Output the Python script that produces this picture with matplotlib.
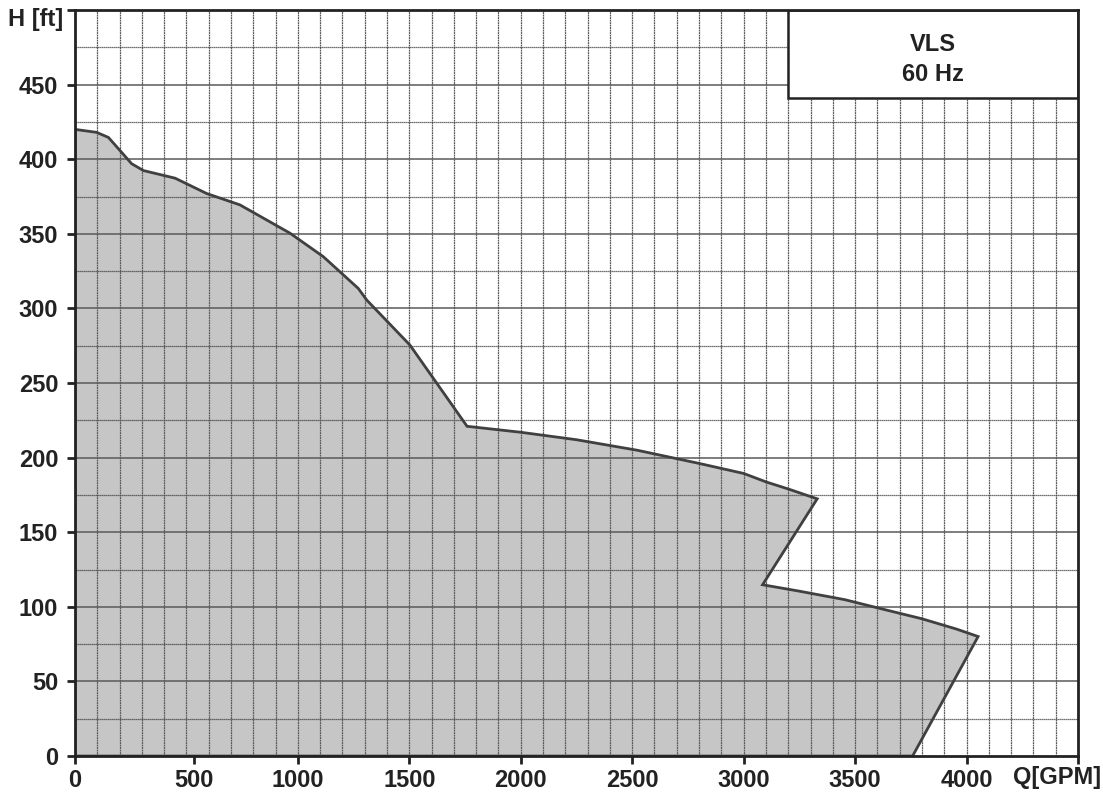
import matplotlib
matplotlib.use("Agg")
import matplotlib.pyplot as plt
from matplotlib.patches import Polygon, Rectangle

plt.rcParams["font.family"] = ["Liberation Sans", "DejaVu Sans"]

# Betriebsbereich VLS 60 Hz (Umriss, im Uhrzeigersinn ab Q=0)
Q = [0, 97, 150, 195, 254, 307, 449, 591, 740, 965, 1114, 1271, 1309, 1503, 1759,
     2000, 2250, 2521, 2804, 3000, 3103, 3200, 3330,
     3085, 3250, 3454, 3604, 3800, 3955, 4052,
     3758, 0]
H = [420, 418, 414.6, 407, 397, 392.4, 387.3, 377, 369.4, 350.4, 334.7, 313.4, 305.6, 275.4, 221,
     217, 212, 205, 196, 189.4, 183.6, 179, 172.4,
     114.8, 110.5, 104.8, 99.2, 92, 85.1, 80.1,
     0, 0]

x_ticks = [0, 534, 1000, 1500, 2000, 2500, 3000, 3500, 4000, 4500]
x_labels = ["0", "500", "1000", "1500", "2000", "2500", "3000", "3500", "4000", ""]
y_ticks = [0, 50, 100, 150, 200, 250, 300, 350, 400, 450, 500]
y_labels = ["0", "50", "100", "150", "200", "250", "300", "350", "400", "450", ""]

FS = 17

fig = plt.figure(figsize=(11.03, 7.95), dpi=100)
ax = fig.add_axes([0.068, 0.049, 0.9093, 0.9384])
ax.set_xlim(0, 4500)
ax.set_ylim(0, 500)

# Gitter
for xv in range(100, 4500, 100):
    ax.axvline(xv, color="#5a5a5a", lw=0.9, ls=(0, (1.5, 0.5)), zorder=3)
for yv in range(25, 500, 25):
    if yv % 50 == 0:
        ax.axhline(yv, color="#5a5a5a", lw=1.1, zorder=3)
    else:
        ax.axhline(yv, color="#444444", lw=0.9, ls=(0, (1, 0.6)), zorder=3)

poly = Polygon(list(zip(Q, H)), closed=True, facecolor="#c6c6c6",
               edgecolor="none", zorder=2)
ax.add_patch(poly)
edge = Polygon(list(zip(Q, H)), closed=True, facecolor="none",
               edgecolor="#404040", lw=2.0, zorder=4)
ax.add_patch(edge)

# Legendenbox
ax.add_patch(Rectangle((3200, 441), 1300, 59, facecolor="white", edgecolor="#222222",
                       lw=1.8, zorder=5))
ax.text(3850, 477, "VLS", ha="center", va="center", fontsize=FS,
        fontweight="bold", color="#222222", zorder=6)
ax.text(3850, 457, "60 Hz", ha="center", va="center", fontsize=FS,
        fontweight="bold", color="#222222", zorder=6)

ax.set_xticks(x_ticks)
ax.set_xticklabels(x_labels)
ax.set_yticks(y_ticks)
ax.set_yticklabels(y_labels)
ax.tick_params(axis="both", direction="out", length=6, width=2, color="#222222",
               labelsize=FS, labelcolor="#222222")
for lab in ax.get_xticklabels() + ax.get_yticklabels():
    lab.set_fontweight("bold")
ax.tick_params(axis="x", pad=3)
ax.tick_params(axis="y", pad=6)
for s in ax.spines.values():
    s.set_color("#222222")
    s.set_linewidth(2)
    s.set_zorder(7)

fig.text(0.007, 0.975, "H [ft]", ha="left", va="center", fontsize=FS,
         fontweight="bold", color="#222222")
fig.text(0.998, 0.022, "Q[GPM]", ha="right", va="center", fontsize=FS,
         fontweight="bold", color="#222222")

fig.savefig("out.png", dpi=100)
